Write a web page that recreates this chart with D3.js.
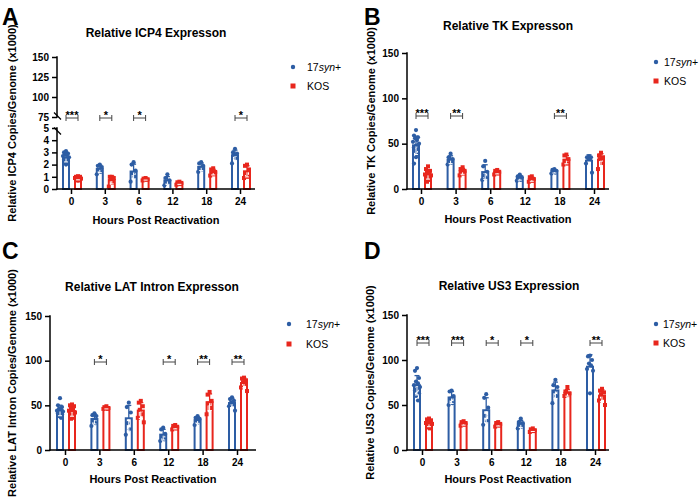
<!DOCTYPE html>
<html><head><meta charset="utf-8">
<script src="https://cdn.jsdelivr.net/npm/d3@7"></script>
<style>
body{margin:0;background:#fff;}
svg{display:block;font-family:"Liberation Sans",Arial,Helvetica,sans-serif;}
</style></head><body>
<svg id="c" width="700" height="498"></svg>
<script>
const categories = ["0","3","6","12","18","24"];
const seriesNames = ["17syn+","KOS"];

// Panel A: ICP4
const icp4Syn = [
  [3.1,3.0,2.9,2.85,2.8,2.7,2.6,2.5,2.4,2.3,2.2,2.1,2.0],
  [2.0,1.9,1.8,1.6,1.4,1.2],
  [2.2,2.0,1.5,1.3,1.0,0.6],
  [1.2,0.9,0.7,0.6,0.5,0.3],
  [2.2,2.1,1.9,1.7,1.6,1.4],
  [3.3,3.0,2.9,2.8,2.5,2.1]
];
const icp4Kos = [
  [1.05,1.0,1.0,0.95,0.9,0.9,0.85,0.8,0.8,0.75,0.7,0.7],
  [1.0,1.0,0.9,0.8,0.5,0.2],
  [0.9,0.85,0.8,0.8,0.75,0.7],
  [0.6,0.55,0.5,0.45,0.4,0.35],
  [1.7,1.6,1.4,1.3,1.2,1.1],
  [2.0,1.9,1.6,1.3,1.0,0.9]
];
const icp4Sig = ["***","*","*","","","*"];
const icp4Ticks = [0,1,2,3,4,5,75,100,125,150];

// Panel B: TK
const tkSyn = [
  [65,59,57,56,54,52,50,48,46,44,42,38,35,28],
  [39,35,33,31,29,27],
  [31,25,19,15,12,10],
  [16,14,13,12,10,9],
  [22,21,20,19,18,17],
  [36,35,35,34,33,28,18]
];
const tkKos = [
  [25,22,20,19,17,16,15,13,12,10,8],
  [24,22,20,19,17,15],
  [21,20,19,18,17,16],
  [14,13,11,10,9,8],
  [38,37,33,31,28,27],
  [40,37,35,33,28,22]
];
const tkSig = ["***","**","","","**",""];

// Panel C: LAT intron
const latSyn = [
  [58,50,48,46,45,44,43,42,41,40,38,36],
  [41,39,38,33,30,27],
  [53,48,42,30,23,17],
  [25,23,18,15,12,10],
  [38,36,35,33,31,28],
  [59,57,55,53,51,49,44]
];
const latKos = [
  [51,50,49,48,46,44,42,40,38,36,35],
  [49,48,47,47,46,46],
  [55,53,49,45,40,36,31],
  [28,27,26,25,24,23],
  [65,62,55,52,47,40],
  [81,80,78,76,74,70,66]
];
const latSig = ["","*","","*","**","**"];

// Panel D: US3
const us3Syn = [
  [91,88,80,76,74,72,70,68,66,63,60,55],
  [66,65,60,57,52,50],
  [62,58,47,38,32,28],
  [35,31,30,28,26,24],
  [78,72,70,65,60,52],
  [105,104,100,96,94,90,88,63]
];
const us3Kos = [
  [35,34,33,32,31,30,29,28,27,26,25,24],
  [32,31,30,29,28,27],
  [31,30,29,28,27,26],
  [24,23,22,22,21,20],
  [70,65,63,62,61,60],
  [68,66,64,62,58,55,50]
];
const us3Sig = ["***","***","*","*","","**"];
const stdTicks = [0,50,100,150];

const BLUE = "#2d5da4", RED = "#e8261d";
const colors = [BLUE, RED];

const panels = [
  {letter:"A", lx:2, ly:25, title:"Relative ICP4 Expresson", tx:156, ty:37,
   ylab:"Relative ICP4 Copies/Genome (x1000)", ylx:12,
   ax0:57, ax1:255, xr:[71,240], ydom:[0,5,75,150], yr:[189,128,117,57], ticks:icp4Ticks, broken:true,
   data:[icp4Syn, icp4Kos], sig:icp4Sig, sigY:118, xly:224, leg:{x:293,y1:67,y2:86,tx:307}},
  {letter:"B", lx:364, ly:25, title:"Relative TK Expresson", tx:508, ty:30,
   ylab:"Relative TK Copies/Genome (x1000)", ylx:371,
   ax0:407, ax1:609, xr:[421,594], ydom:[0,150], yr:[189,53], ticks:stdTicks,
   data:[tkSyn, tkKos], sig:tkSig, sigY:116, xly:223, leg:{x:656,y1:62,y2:81,tx:664}},
  {letter:"C", lx:2, ly:259, title:"Relative LAT Intron Expresson", tx:152, ty:291,
   ylab:"Relative LAT Intron Copies/Genome (x1000)", ylx:12,
   ax0:50, ax1:256, xr:[65,237], ydom:[0,150], yr:[450,316], ticks:stdTicks,
   data:[latSyn, latKos], sig:latSig, sigY:362, xly:483, leg:{x:289,y1:324,y2:344,tx:306}},
  {letter:"D", lx:364, ly:259, title:"Relative US3 Expression", tx:509, ty:290,
   ylab:"Relative US3 Copies/Genome (x1000)", ylx:370,
   ax0:407, ax1:609, xr:[422,595], ydom:[0,150], yr:[450,315], ticks:stdTicks,
   data:[us3Syn, us3Kos], sig:us3Sig, sigY:343, xly:483, leg:{x:656,y1:324,y2:343,tx:663}}
];

const svg = d3.select("#c");
const jitter = [0,-2,2,-1,1,-3,3,0,-2,2,-1,1,0,-2];

panels.forEach(p => {
  const g = svg.append("g");
  const x = d3.scalePoint().domain(categories).range(p.xr);
  const y = d3.scaleLinear().domain(p.ydom).range(p.yr);
  const y0 = p.yr[0];

  // panel letter
  g.append("text").attr("x", p.lx).attr("y", p.ly).text(p.letter)
    .attr("font-size", 23).attr("font-weight", "bold").attr("fill", "#000");
  // title
  g.append("text").attr("x", p.tx).attr("y", p.ty).text(p.title)
    .attr("text-anchor", "middle").attr("font-size", 12).attr("font-weight", "bold");
  // y label
  const ymid = (p.yr[0] + p.yr[p.yr.length-1]) / 2;
  g.append("text").attr("transform", `translate(${p.ylx},${ymid}) rotate(-90)`)
    .attr("text-anchor", "middle").attr("dominant-baseline", "central")
    .attr("font-size", 11).attr("font-weight", "bold").text(p.ylab);
  // x label
  g.append("text").attr("x", (p.ax0 + p.ax1) / 2 + 0).attr("y", p.xly)
    .attr("text-anchor", "middle").attr("font-size", 11).attr("font-weight", "bold")
    .text("Hours Post Reactivation");

  // bars, points, error bars
  p.data.forEach((series, s) => {
    const col = colors[s];
    const off = s === 0 ? -5 : 7;
    series.forEach((vals, i) => {
      const cx = x(categories[i]) + off;
      const m = d3.mean(vals), sd = d3.deviation(vals);
      g.append("rect").attr("x", cx - 3).attr("width", 6)
        .attr("y", y(m)).attr("height", y0 - y(m))
        .attr("fill", "#fff").attr("stroke", col).attr("stroke-width", 2);
      vals.forEach((v, j) => {
        const px = cx + jitter[j % jitter.length];
        if (s === 0) {
          g.append("circle").attr("cx", px).attr("cy", y(v)).attr("r", 2.1).attr("fill", col);
        } else {
          g.append("rect").attr("x", px - 2).attr("y", y(v) - 2).attr("width", 4).attr("height", 4).attr("fill", col);
        }
      });
      // error bar
      const top = y(m + sd), bot = y(Math.max(0, m - sd));
      g.append("line").attr("x1", cx).attr("x2", cx).attr("y1", y(m)).attr("y2", top)
        .attr("stroke", col).attr("stroke-width", 1.3);
      g.append("line").attr("x1", cx - 2.5).attr("x2", cx + 2.5).attr("y1", top).attr("y2", top)
        .attr("stroke", col).attr("stroke-width", 1.3);
      g.append("line").attr("x1", cx).attr("x2", cx).attr("y1", y(m) + 1).attr("y2", bot)
        .attr("stroke", "#fff").attr("stroke-width", 1);
      g.append("line").attr("x1", cx - 2).attr("x2", cx + 2).attr("y1", bot).attr("y2", bot)
        .attr("stroke", "#fff").attr("stroke-width", 1);
    });
  });

  // x axis
  const xg = g.append("g").attr("transform", `translate(0,${y0})`)
    .call(d3.axisBottom(x).tickSize(5).tickPadding(4));
  xg.select(".domain").remove();
  xg.selectAll(".tick line").attr("stroke", "#000").attr("stroke-width", 1.5);
  xg.selectAll(".tick text").attr("font-size", 10).attr("font-weight", "bold")
    .attr("font-family", "Liberation Sans, Arial, sans-serif").attr("fill", "#000");
  g.append("line").attr("x1", p.ax0 - 0.75).attr("x2", p.ax1).attr("y1", y0).attr("y2", y0)
    .attr("stroke", "#000").attr("stroke-width", 1.5);

  // y axis
  const yg = g.append("g").attr("transform", `translate(${p.ax0},0)`)
    .call(d3.axisLeft(y).tickValues(p.ticks).tickSize(5).tickPadding(3).tickFormat(d3.format("d")));
  yg.select(".domain").remove();
  yg.selectAll(".tick line").attr("stroke", "#000").attr("stroke-width", 1.5);
  yg.selectAll(".tick text").attr("font-size", 10).attr("font-weight", "bold")
    .attr("font-family", "Liberation Sans, Arial, sans-serif").attr("fill", "#000");
  const segs = p.broken ? [[0,5],[75,150]] : [[p.ydom[0], p.ydom[p.ydom.length-1]]];
  segs.forEach(sg => {
    g.append("line").attr("x1", p.ax0).attr("x2", p.ax0).attr("y1", y(sg[0]) + 0.75).attr("y2", y(sg[1]) - 0.75)
      .attr("stroke", "#000").attr("stroke-width", 1.5);
  });
  if (p.broken) {
    [y(75) - 1, y(5) + 3].forEach(by => {
      g.append("line").attr("x1", p.ax0 - 3).attr("x2", p.ax0 + 4).attr("y1", by - 3.5).attr("y2", by + 3.5)
        .attr("stroke", "#000").attr("stroke-width", 1.3);
    });
  }

  // significance brackets
  p.sig.forEach((sgn, i) => {
    if (!sgn) return;
    const c = x(categories[i]);
    const x1 = c - 5, x2 = c + 7, by = p.sigY;
    g.append("line").attr("x1", x1).attr("x2", x2).attr("y1", by).attr("y2", by).attr("stroke", "#444").attr("stroke-width", 1);
    [x1, x2].forEach(xx => g.append("line").attr("x1", xx).attr("x2", xx).attr("y1", by - 3).attr("y2", by + 3)
      .attr("stroke", "#444").attr("stroke-width", 1));
    g.append("text").attr("x", c + 1).attr("y", by + 1).attr("text-anchor", "middle")
      .attr("font-size", 11).attr("font-weight", "bold").text(sgn);
  });

  // legend
  const L = p.leg;
  g.append("circle").attr("cx", L.x).attr("cy", L.y1).attr("r", 2.2).attr("fill", BLUE);
  const t1 = g.append("text").attr("x", L.tx).attr("y", L.y1).attr("dominant-baseline", "central").attr("font-size", 10.5);
  t1.append("tspan").text("17");
  t1.append("tspan").attr("font-style", "italic").text("syn");
  t1.append("tspan").text("+");
  g.append("rect").attr("x", L.x - 2.5).attr("y", L.y2 - 2.5).attr("width", 5).attr("height", 5).attr("fill", RED);
  g.append("text").attr("x", L.tx).attr("y", L.y2).attr("dominant-baseline", "central").attr("font-size", 10.5).text(seriesNames[1]);
});
</script>
</body></html>
